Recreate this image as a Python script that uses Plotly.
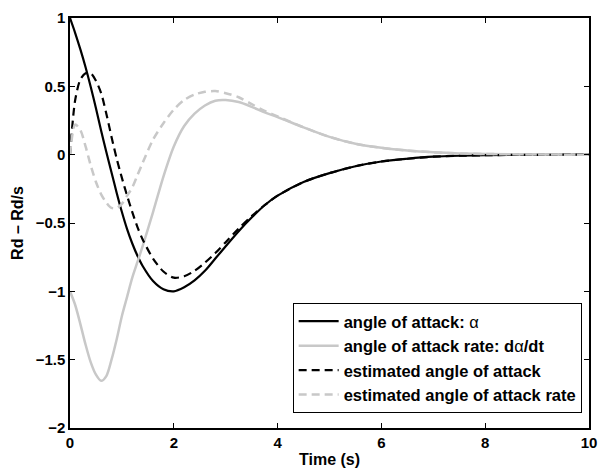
import plotly.graph_objects as go

# time grid (s)
t = [0, 0.1, 0.2, 0.3, 0.4, 0.5, 0.6, 0.7, 0.8, 0.9, 1.0, 1.1, 1.2, 1.3, 1.4,
     1.6, 1.8, 2.0, 2.2, 2.4, 2.6, 2.8, 3.0, 3.25, 3.5, 3.75, 4.0, 4.5, 5.0,
     5.5, 6.0, 6.5, 7.0, 7.5, 8.0, 9.0, 10.0]

alpha = [1.0, 0.89, 0.77, 0.64, 0.495, 0.34, 0.175, 0.02, -0.13, -0.28, -0.42,
         -0.545, -0.65, -0.74, -0.815, -0.925, -0.985, -1.0, -0.97, -0.92,
         -0.85, -0.76, -0.67, -0.56, -0.46, -0.37, -0.30, -0.20, -0.135,
         -0.085, -0.05, -0.03, -0.015, -0.008, -0.004, -0.001, 0.0]

alpha_rate = [-1.0, -1.1, -1.24, -1.39, -1.52, -1.61, -1.655, -1.62, -1.50,
              -1.35, -1.18, -1.04, -0.90, -0.785, -0.67, -0.42, -0.16, 0.06,
              0.21, 0.30, 0.36, 0.395, 0.40, 0.385, 0.35, 0.31, 0.275, 0.20,
              0.13, 0.08, 0.05, 0.03, 0.017, 0.009, 0.005, 0.001, 0.0]

est_alpha = [0.0, 0.40, 0.55, 0.595, 0.595, 0.54, 0.45, 0.30, 0.13, -0.03,
             -0.17, -0.30, -0.42, -0.53, -0.62, -0.76, -0.855, -0.90, -0.89,
             -0.85, -0.79, -0.72, -0.64, -0.54, -0.45, -0.37, -0.30, -0.20,
             -0.135, -0.085, -0.05, -0.03, -0.015, -0.008, -0.004, -0.001, 0.0]

est_rate = [0.0, 0.22, 0.18, 0.06, -0.08, -0.20, -0.29, -0.35, -0.39, -0.39,
            -0.36, -0.30, -0.24, -0.15, -0.06, 0.11, 0.23, 0.33, 0.40, 0.44,
            0.46, 0.465, 0.45, 0.42, 0.37, 0.32, 0.28, 0.20, 0.13, 0.08, 0.05,
            0.03, 0.017, 0.009, 0.005, 0.001, 0.0]

names = ["angle of attack: <span style='font-weight:normal'>α</span>",
         "angle of attack rate: d<span style='font-weight:normal'>α</span>/dt",
         "estimated angle of attack",
         "estimated angle of attack rate"]

BLACK = "#000000"
GRAY = "#c8c8c8"
FONT = "Liberation Sans, Arial, sans-serif"

fig = go.Figure()
fig.add_trace(go.Scatter(x=t, y=alpha, name=names[0], mode="lines",
                         line=dict(color=BLACK, width=2.2, shape="spline", smoothing=0.8)))
fig.add_trace(go.Scatter(x=t, y=alpha_rate, name=names[1], mode="lines",
                         line=dict(color=GRAY, width=2.5, shape="spline", smoothing=0.8)))
fig.add_trace(go.Scatter(x=t, y=est_alpha, name=names[2], mode="lines",
                         line=dict(color=BLACK, width=2.2, dash="8px,5px", shape="spline", smoothing=0.8)))
fig.add_trace(go.Scatter(x=t, y=est_rate, name=names[3], mode="lines",
                         line=dict(color=GRAY, width=2.5, dash="8px,5px", shape="spline", smoothing=0.8)))

axis_common = dict(showline=True, linecolor="black", linewidth=1.5, mirror="ticks",
                   ticks="inside", ticklen=5, tickwidth=1, tickcolor="black",
                   showgrid=False, zeroline=False,
                   tickfont=dict(family=FONT, size=15, color="black", weight="bold"))

fig.update_layout(
    width=606, height=475,
    margin=dict(l=70, r=9, t=15, b=44),
    paper_bgcolor="white", plot_bgcolor="white",
    font=dict(family=FONT, size=16, color="black", weight="bold"),
    xaxis=dict(range=[0, 10], tickvals=[0, 2, 4, 6, 8, 10],
               title=dict(text="Time (s)", standoff=4,
                          font=dict(family=FONT, size=16, weight="bold")),
               **axis_common),
    yaxis=dict(range=[-2, 1], tickvals=[-2, -1.5, -1, -0.5, 0, 0.5, 1],
               ticktext=["−2", "−1.5", "−1", "−0.5", "0", "0.5", "1"],
               title=dict(text="Rd – Rd/s", standoff=8,
                          font=dict(family=FONT, size=16, weight="bold")),
               **axis_common),
    legend=dict(x=0.429, y=0.305, xanchor="left", yanchor="top",
                bgcolor="white", bordercolor="black", borderwidth=1,
                font=dict(family=FONT, size=16.5, color="black", weight="bold"),
                tracegroupgap=0, itemwidth=40),
    showlegend=True,
)

fig.write_html("out.html")
